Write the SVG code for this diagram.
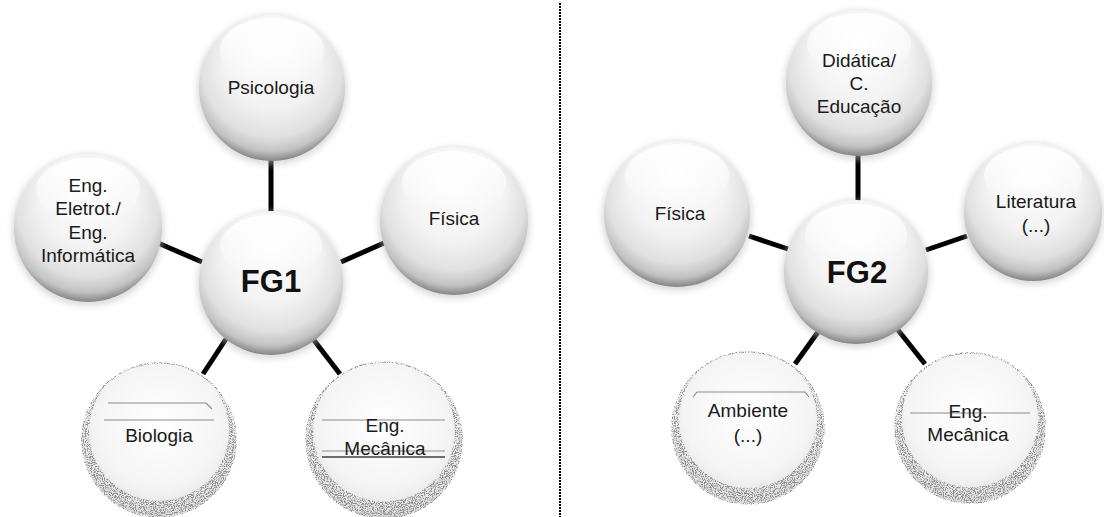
<svg xmlns="http://www.w3.org/2000/svg" width="1104" height="517" viewBox="0 0 1104 517">
  <style>
    .lbl { font-family: "Liberation Sans", Arial, sans-serif; font-size: 19px; fill: #1a1a1a; text-anchor: middle; }
    .big { font-family: "Liberation Sans", Arial, sans-serif; font-size: 31px; font-weight: bold; fill: #111; text-anchor: middle; }
    .link { stroke: #000; stroke-width: 5; stroke-linecap: butt; fill: none; }
    .halo { fill: #bdbdbd; opacity: 0.55; filter: url(#soft); }
    .ball { fill: url(#sphere); }
    .shine { fill: url(#shine); }
    .pale { fill: url(#paleFill); }
    .rim { fill: none; stroke: #8a8a8a; stroke-width: 1.5; filter: url(#grain); }
    .crescent { fill: #6e6e6e; opacity: 0.75; filter: url(#grain); mask: url(#moon); }
    .band { stroke: #8c8c8c; stroke-width: 1.2; fill: none; }
    .divider { stroke: #000; stroke-width: 2; stroke-dasharray: 2 1; }
  </style>
  <defs>
    <radialGradient id="sphere" cx="50%" cy="40%" r="60%" fx="50%" fy="18%">
      <stop offset="0" stop-color="#ffffff"/>
      <stop offset="0.55" stop-color="#f3f3f3"/>
      <stop offset="0.8" stop-color="#e0e0e0"/>
      <stop offset="0.92" stop-color="#c2c2c2"/>
      <stop offset="1" stop-color="#858585"/>
    </radialGradient>
    <linearGradient id="shine" x1="0" y1="0" x2="0" y2="1">
      <stop offset="0" stop-color="#ffffff" stop-opacity="0.95"/>
      <stop offset="1" stop-color="#ffffff" stop-opacity="0"/>
    </linearGradient>
    <radialGradient id="paleFill" cx="50%" cy="40%" r="60%">
      <stop offset="0" stop-color="#ffffff"/>
      <stop offset="0.7" stop-color="#f4f4f4"/>
      <stop offset="1" stop-color="#dedede"/>
    </radialGradient>
    <filter id="soft" x="-20%" y="-20%" width="140%" height="140%">
      <feGaussianBlur stdDeviation="3"/>
    </filter>
    <filter id="grain" x="-10%" y="-10%" width="120%" height="120%">
      <feTurbulence type="fractalNoise" baseFrequency="0.9" numOctaves="2" seed="7" result="noise"/>
      <feColorMatrix in="noise" type="matrix" values="0 0 0 0 0  0 0 0 0 0  0 0 0 0 0  0 0 0 5 -2.2" result="dots"/>
      <feComposite in="SourceGraphic" in2="dots" operator="in"/>
    </filter>
    <mask id="moon" maskContentUnits="objectBoundingBox">
      <circle cx="0.5" cy="0.5" r="0.5" fill="#fff"/>
      <circle cx="0.5" cy="0.44" r="0.46" fill="#000"/>
    </mask>
  </defs>

  <!-- dashed divider between the two groups -->
  <line class="divider" x1="560" y1="3" x2="560" y2="517"/>

  <g id="connectors">
    <line class="link" x1="271" y1="158" x2="271" y2="214"/>
    <line class="link" x1="158" y1="243" x2="202" y2="262"/>
    <line class="link" x1="341" y1="262" x2="384" y2="243"/>
    <line class="link" x1="226" y1="339" x2="203" y2="374"/>
    <line class="link" x1="313" y1="339" x2="340" y2="374"/>
    <line class="link" x1="858" y1="154" x2="858" y2="201"/>
    <line class="link" x1="749" y1="236" x2="791" y2="250"/>
    <line class="link" x1="926" y1="250" x2="967" y2="236"/>
    <line class="link" x1="818" y1="332" x2="795" y2="364"/>
    <line class="link" x1="898" y1="330" x2="925" y2="364"/>
  </g>

  <!-- left group -->
  <g id="psicologia">
    <circle class="halo" cx="272" cy="90" r="75"/>
    <circle class="ball" cx="272" cy="88" r="73"/>
    <ellipse class="shine" cx="272" cy="50" rx="52" ry="32"/>
    <text class="lbl" x="271" y="94">Psicologia</text>
  </g>
  <g id="fg1">
    <circle class="halo" cx="271" cy="285" r="74"/>
    <circle class="ball" cx="271" cy="283" r="72"/>
    <ellipse class="shine" cx="271" cy="246" rx="51" ry="31"/>
    <text class="big" x="271" y="292">FG1</text>
  </g>
  <g id="eng-eletrot">
    <circle class="halo" cx="88" cy="230" r="76"/>
    <circle class="ball" cx="88" cy="228" r="74"/>
    <ellipse class="shine" cx="88" cy="190" rx="52" ry="32"/>
    <text class="lbl" x="88" y="192">Eng.</text>
    <text class="lbl" x="88" y="215">Eletrot./</text>
    <text class="lbl" x="88" y="239">Eng.</text>
    <text class="lbl" x="88" y="262">Informática</text>
  </g>
  <g id="fisica-1">
    <circle class="halo" cx="454" cy="223" r="76"/>
    <circle class="ball" cx="454" cy="221" r="74"/>
    <ellipse class="shine" cx="454" cy="183" rx="52" ry="32"/>
    <text class="lbl" x="454" y="225">Física</text>
  </g>
  <g id="biologia">
    <circle class="pale" cx="159" cy="440" r="77"/>
    <circle class="crescent" cx="159" cy="440" r="76"/>
    <circle class="rim" cx="159" cy="440" r="77"/>
    <path class="band" d="M108 403 H206 L212 409 M104 420 H214"/>
    <text class="lbl" x="159" y="442">Biologia</text>
  </g>
  <g id="eng-mecanica-1">
    <circle class="pale" cx="384" cy="440" r="78"/>
    <circle class="crescent" cx="384" cy="440" r="77"/>
    <circle class="rim" cx="384" cy="440" r="78"/>
    <path class="band" d="M322 420 H445 M322 451 H445"/>
    <line x1="322" y1="457" x2="445" y2="457" stroke="#6e6e6e" stroke-width="2"/>
    <text class="lbl" x="385" y="432">Eng.</text>
    <text class="lbl" x="385" y="455">Mecânica</text>
  </g>

  <!-- right group -->
  <g id="didatica">
    <circle class="halo" cx="859" cy="85" r="75"/>
    <circle class="ball" cx="859" cy="83" r="73"/>
    <ellipse class="shine" cx="859" cy="45" rx="52" ry="32"/>
    <text class="lbl" x="859" y="67">Didática/</text>
    <text class="lbl" x="859" y="90">C.</text>
    <text class="lbl" x="859" y="113">Educação</text>
  </g>
  <g id="fg2">
    <circle class="halo" cx="856" cy="274" r="74"/>
    <circle class="ball" cx="856" cy="272" r="72"/>
    <ellipse class="shine" cx="856" cy="235" rx="51" ry="31"/>
    <text class="big" x="857" y="283">FG2</text>
  </g>
  <g id="fisica-2">
    <circle class="halo" cx="677" cy="216" r="75"/>
    <circle class="ball" cx="677" cy="214" r="73"/>
    <ellipse class="shine" cx="677" cy="176" rx="52" ry="32"/>
    <text class="lbl" x="680" y="220">Física</text>
  </g>
  <g id="literatura">
    <circle class="halo" cx="1033" cy="214" r="71"/>
    <circle class="ball" cx="1033" cy="212" r="69"/>
    <ellipse class="shine" cx="1033" cy="176" rx="49" ry="30"/>
    <text class="lbl" x="1036" y="208">Literatura</text>
    <text class="lbl" x="1036" y="232">(...)</text>
  </g>
  <g id="ambiente">
    <circle class="pale" cx="748" cy="428" r="76"/>
    <circle class="crescent" cx="748" cy="428" r="75"/>
    <circle class="rim" cx="748" cy="428" r="76"/>
    <path class="band" d="M693 397 L697 392 H805 L809 397"/>
    <text class="lbl" x="748" y="417">Ambiente</text>
    <text class="lbl" x="748" y="442">(...)</text>
  </g>
  <g id="eng-mecanica-2">
    <circle class="pale" cx="970" cy="428" r="75"/>
    <circle class="crescent" cx="970" cy="428" r="74"/>
    <circle class="rim" cx="970" cy="428" r="75"/>
    <path class="band" d="M910 413 H1030"/>
    <text class="lbl" x="968" y="418">Eng.</text>
    <text class="lbl" x="968" y="441">Mecânica</text>
  </g>
</svg>
